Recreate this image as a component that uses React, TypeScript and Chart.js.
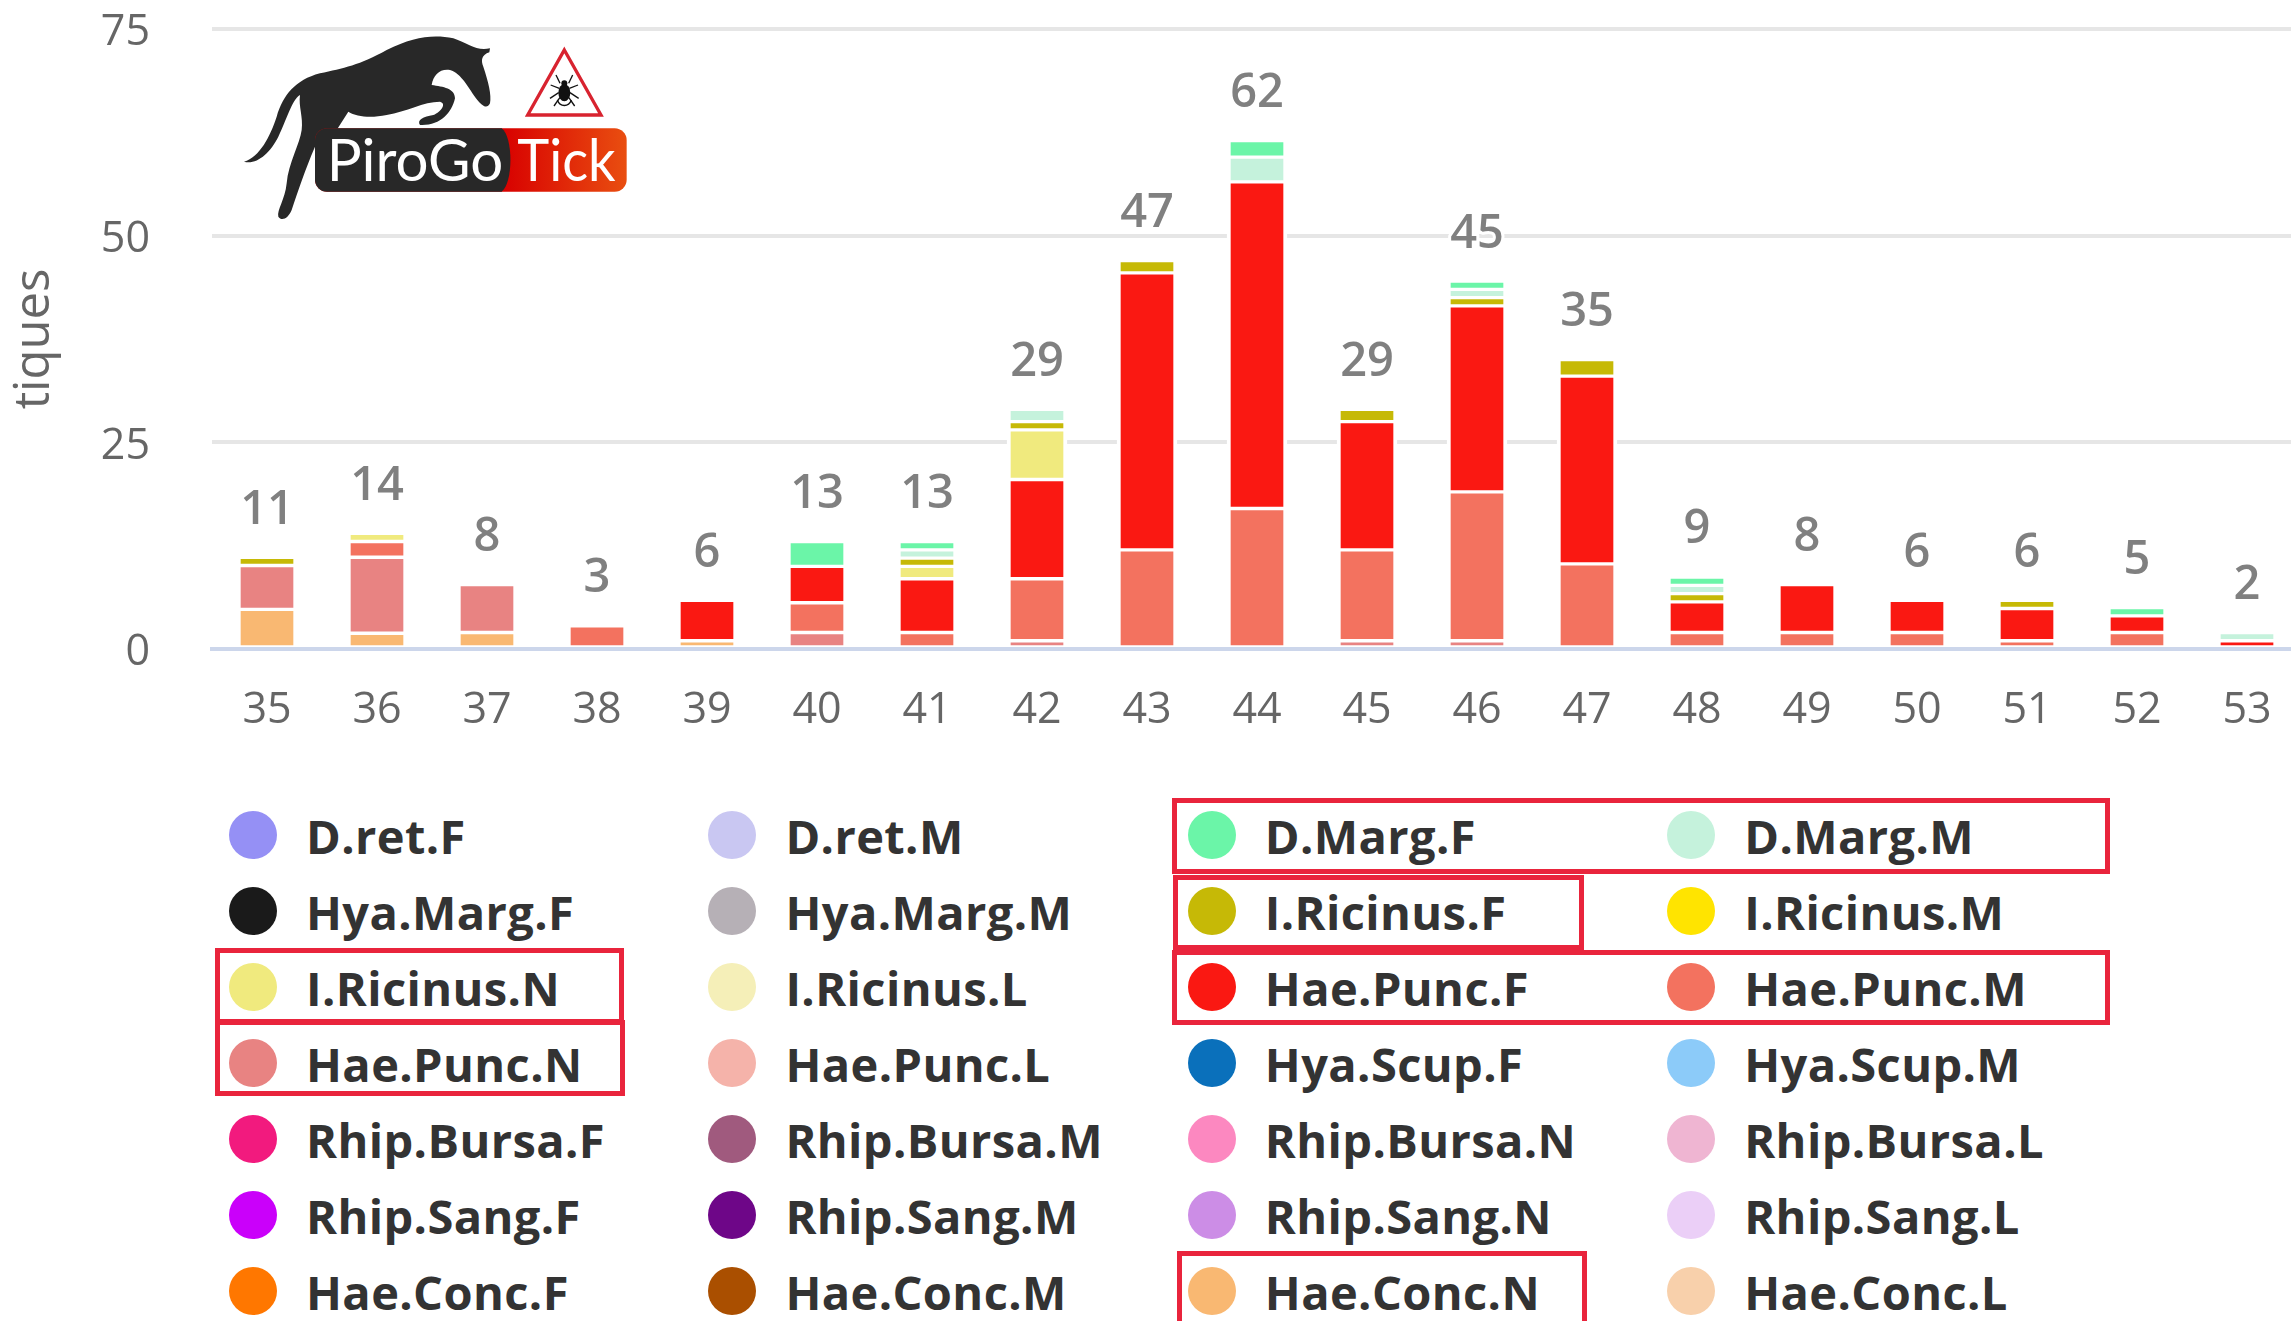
import React, { useEffect, useRef } from "react";
import { Chart, registerables } from "chart.js";

Chart.register(...registerables);

const categories = ["35","36","37","38","39","40","41","42","43","44","45","46","47","48","49","50","51","52","53"];
const totals = [11,14,8,3,6,13,13,29,47,62,29,45,35,9,8,6,6,5,2];
const yTicks = [0,25,50,75];

const none = [0,0,0,0,0,0,0,0,0,0,0,0,0,0,0,0,0,0,0];
const dMargF = [0,0,0,0,0,3,1,0,0,2,0,1,0,1,0,0,0,1,0];
const dMargM = [0,0,0,0,0,0,1,1.5,0,3,0,1,0,1,0,0,0,0,1];
const iRicF = [1,0,0,0,0,0,1,1,1.5,0,1.5,1,2,1,0,0,1,0,0];
const iRicN = [0,1,0,0,0,0,1.5,6,0,0,0,0,0,0,0,0,0,0,0];
const haePuncF = [0,0,0,0,4.9,4.4,6.5,12,33.5,39.5,15.5,22.5,22.7,3.7,5.8,3.9,3.9,2,1];
const haePuncM = [0,1.9,0,2.8,0,3.6,2,7.5,12,17,11,18,10.3,2,2,2,1,2,0];
const haePuncN = [5.3,9.2,5.8,0,0,2,0,1,0,0,1,1,0,0,0,0,0,0,0];
const haeConcN = [4.8,1.9,2,0,1,0,0,0,0,0,0,0,0,0,0,0,0,0,0];

const seriesNames = [
  "D.ret.F","D.ret.M","D.Marg.F","D.Marg.M",
  "Hya.Marg.F","Hya.Marg.M","I.Ricinus.F","I.Ricinus.M",
  "I.Ricinus.N","I.Ricinus.L","Hae.Punc.F","Hae.Punc.M",
  "Hae.Punc.N","Hae.Punc.L","Hya.Scup.F","Hya.Scup.M",
  "Rhip.Bursa.F","Rhip.Bursa.M","Rhip.Bursa.N","Rhip.Bursa.L",
  "Rhip.Sang.F","Rhip.Sang.M","Rhip.Sang.N","Rhip.Sang.L",
  "Hae.Conc.F","Hae.Conc.M","Hae.Conc.N","Hae.Conc.L",
];
const seriesColors = [
  "#9590f5","#c9c7f2","#6bf5a8","#c5f2dc",
  "#1a1a1a","#b6b0b6","#c6b906","#ffe400",
  "#f0ea7e","#f5efb8","#fa1812","#f3725f",
  "#e88382","#f5b3aa","#0a70bb","#8ccbf9",
  "#f21a7e","#a05a7e","#fc88c0","#efb5d2",
  "#ca00fa","#6e0688","#cc8de6","#ebcff7",
  "#ff7700","#aa4f00","#f9b872","#f8d0ab",
];
const seriesValues = [
  none,none,dMargF,dMargM,
  none,none,iRicF,none,
  iRicN,none,haePuncF,haePuncM,
  haePuncN,none,none,none,
  none,none,none,none,
  none,none,none,none,
  none,none,haeConcN,none,
];

const highlightBoxes = [
  { left: 215, top: 948, width: 409, height: 76 },
  { left: 215, top: 1020, width: 410, height: 76 },
  { left: 1172, top: 798, width: 938, height: 76 },
  { left: 1173, top: 875, width: 411, height: 75 },
  { left: 1172, top: 950, width: 938, height: 75 },
  { left: 1177, top: 1251, width: 410, height: 90 },
];

const FONT = '"Open Sans", sans-serif';

const stackLabels = {
  id: "stackLabels",
  afterDatasetsDraw(chart: any) {
    const { ctx, scales } = chart;
    ctx.save();
    ctx.font = `600 47px ${FONT}`;
    ctx.textAlign = "center";
    ctx.textBaseline = "middle";
    ctx.lineJoin = "round";
    totals.forEach((label, i) => {
      const top = seriesValues.reduce((sum, values) => sum + values[i], 0);
      const x = scales.x.getPixelForValue(i);
      const y = scales.y.getPixelForValue(top) - 47;
      ctx.lineWidth = 6;
      ctx.strokeStyle = "#ffffff";
      ctx.strokeText(String(label), x, y);
      ctx.fillStyle = "#808080";
      ctx.fillText(String(label), x, y);
    });
    ctx.restore();
  },
};

function Logo() {
  return (
    <svg
      width={420}
      height={220}
      viewBox="0 0 1260 660"
      style={{ position: "absolute", left: 220, top: 20 }}
    >
      <defs>
        <linearGradient id="tickBar" x1="0" y1="0" x2="1" y2="0">
          <stop offset="0.6" stopColor="#d80000" />
          <stop offset="1" stopColor="#e94e10" />
        </linearGradient>
      </defs>
      <path
        fill="#282828"
        d="M72 425 C120 410 150 350 170 290 C190 225 225 180 300 160 C370 145 420 135 500 90 C580 50 640 42 700 55 C745 70 770 95 810 85 L808 97 C785 105 782 120 790 140 C805 185 815 225 810 250 C800 270 785 255 772 240 C745 205 725 160 690 150 C660 145 640 165 635 195 C670 200 705 205 705 235 C695 280 660 318 600 315 C590 300 610 290 640 285 C665 275 680 250 660 245 C610 245 560 275 500 285 C450 295 410 290 385 275 L350 330 L300 345 L285 380 C255 450 235 510 215 570 C205 595 185 605 175 590 C170 570 195 540 200 490 C205 430 240 370 245 330 C250 290 235 260 240 225 C215 240 200 300 175 350 C150 400 110 435 72 425 Z"
      />
      <rect x={285} y={325} width={935} height={190} rx={36} fill="url(#tickBar)" />
      <path
        fill="#282828"
        d="M321 325 H845 C880 350 880 490 845 515 H321 A36 36 0 0 1 285 479 V361 A36 36 0 0 1 321 325 Z"
      />
      <text x={320} y={482} fontFamily="Lato" fontWeight={400} fontSize={172} fill="#ffffff" textLength={530} lengthAdjust="spacingAndGlyphs">PiroGo</text>
      <text x={892} y={482} fontFamily="Lato" fontWeight={400} fontSize={172} fill="#ffffff" textLength={295} lengthAdjust="spacingAndGlyphs">Tick</text>
      <polygon points="1033,90 1143,285 923,285" fill="#ffffff" stroke="#d8232f" strokeWidth={10} />
      <ellipse cx={1033} cy={218} rx={18} ry={26} fill="#111111" />
      <circle cx={1033} cy={190} r={9} fill="#111111" />
      <g stroke="#111111" strokeWidth={4} fill="none">
        <path d="M1020 190 L1008 165" />
        <path d="M1046 190 L1058 165" />
        <path d="M1018 205 L992 195" />
        <path d="M1048 205 L1074 195" />
        <path d="M1016 218 L990 235" />
        <path d="M1050 218 L1076 235" />
        <path d="M1020 232 L1002 258" />
        <path d="M1046 232 L1064 258" />
        <path d="M1012 240 C1020 262 1046 262 1054 240" />
      </g>
    </svg>
  );
}

export default function App() {
  const canvasRef = useRef<HTMLCanvasElement | null>(null);

  useEffect(() => {
    const chart = new Chart(canvasRef.current as HTMLCanvasElement, {
      type: "bar",
      data: {
        labels: categories,
        datasets: seriesNames
          .map((name, i) => ({
            label: name,
            data: seriesValues[i],
            backgroundColor: seriesColors[i],
            borderColor: "#ffffff",
            borderWidth: { top: 2, bottom: 2, left: 4, right: 4 },
            borderSkipped: false,
            barThickness: 60,
            stack: "ticks",
          }))
          .reverse(),
      },
      options: {
        responsive: false,
        animation: false,
        events: [],
        layout: { padding: { top: 29, right: 18, left: 0, bottom: 0 } },
        plugins: { legend: { display: false }, tooltip: { enabled: false }, title: { display: false } },
        scales: {
          x: {
            stacked: true,
            offset: true,
            grid: { display: false },
            border: { display: true, color: "#ccd6eb", width: 4, z: 1 },
            afterFit: (s: any) => { s.height = 111; s.paddingLeft = 0; s.paddingRight = 0; },
            ticks: {
              color: "#666666",
              font: { family: FONT, size: 43 },
              padding: 28,
              maxRotation: 0,
              autoSkip: false,
            },
          },
          y: {
            stacked: true,
            min: 0,
            max: 75,
            afterBuildTicks: (s: any) => { s.ticks = yTicks.map((value) => ({ value })); },
            afterFit: (s: any) => { s.width = 212; s.paddingTop = 0; s.paddingBottom = 0; },
            grid: { color: "#e6e6e6", lineWidth: 4, drawTicks: false },
            border: { display: false },
            title: {
              display: true,
              text: "tiques",
              color: "#666666",
              font: { family: FONT, size: 49 },
              padding: { top: 6, bottom: 0 },
            },
            ticks: {
              color: "#666666",
              font: { family: FONT, size: 43 },
              padding: 62,
              labelOffset: 4,
            },
          },
        },
      },
      plugins: [stackLabels],
    } as any);
    return () => chart.destroy();
  }, []);

  return (
    <div style={{ position: "fixed", left: 0, top: 0, width: 2291, height: 1321, overflow: "hidden", background: "#ffffff" }}>
      <canvas ref={canvasRef} width={2320} height={760} style={{ position: "absolute", left: 0, top: 0, display: "block" }} />
      <Logo />
      {seriesNames.map((name, i) => {
        const col = i % 4;
        const row = Math.floor(i / 4);
        const cx = 253 + col * 479.4;
        const cy = 835 + row * 76;
        return (
          <React.Fragment key={name}>
            <div style={{ position: "absolute", left: cx - 24, top: cy - 24, width: 48, height: 48, borderRadius: "50%", background: seriesColors[i] }} />
            <div style={{ position: "absolute", left: cx + 53, top: cy - 39, height: 80, lineHeight: "80px", fontFamily: FONT, fontWeight: 700, fontSize: 47, letterSpacing: 0.4, color: "#333333", whiteSpace: "nowrap" }}>{name}</div>
          </React.Fragment>
        );
      })}
      {highlightBoxes.map((b, i) => (
        <div key={i} style={{ position: "absolute", left: b.left, top: b.top, width: b.width, height: b.height, boxSizing: "border-box", border: "5px solid #e9243c" }} />
      ))}
    </div>
  );
}
